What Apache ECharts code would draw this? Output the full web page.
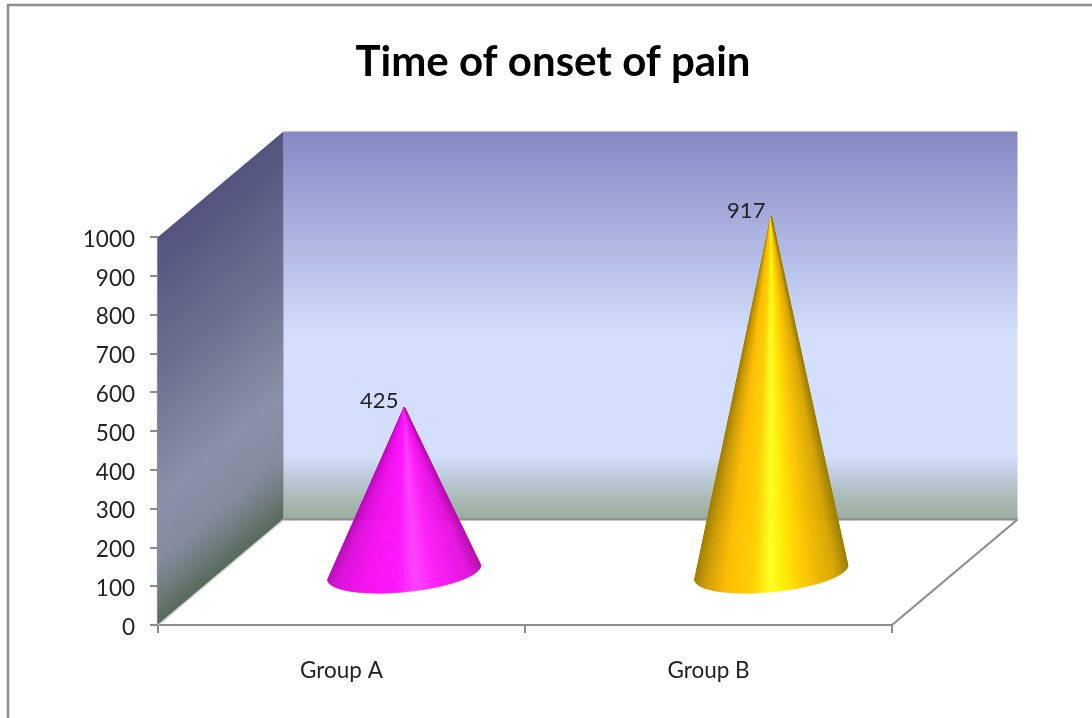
<!DOCTYPE html>
<html>
<head>
<meta charset="utf-8">
<style>html,body{margin:0;padding:0;background:#fff}#chart{width:1092px;height:718px}</style>
<script src="https://cdn.jsdelivr.net/npm/echarts@6/dist/echarts.min.js"></script>
</head>
<body>
<div id="chart"></div>
<script>
// Time of onset of pain, one cone per group
const categories = ['Group A', 'Group B'];
const onsetValues = [425, 917];
const axisTicks = [0, 100, 200, 300, 400, 500, 600, 700, 800, 900, 1000];

// Oblique projection of the chart box, in pixels
const DEPTH_X = 125.5;
const DEPTH_Y = 105.5;
const GREY = '#8c8c8c';
const FONT = 'Lato, "Open Sans", sans-serif';

// Shading across a cone, left silhouette to right silhouette
const magentaShade = [[0, '#bc0abc'], [0.07, '#dc0cd8'], [0.22, '#f40ff0'], [0.45, '#ff14ff'], [0.58, '#ff40ff'], [0.72, '#ff1cf8'], [0.92, '#e610e0'], [1, '#bc0ab4']];
const goldShade = [[0, '#a08000'], [0.07, '#cc9a00'], [0.2, '#ffbc00'], [0.38, '#ffd000'], [0.5, '#ffff20'], [0.6, '#ffe800'], [0.72, '#ffc800'], [0.92, '#d8a400'], [1, '#a08000']];
const shades = [magentaShade, goldShade];

function hexToRgb(h) {
  return [1, 3, 5].map(function (i) { return parseInt(h.substr(i, 2), 16); });
}
function shadeAt(stops, u) {
  for (let i = 1; i < stops.length; i++) {
    if (u <= stops[i][0]) {
      const f = (u - stops[i - 1][0]) / (stops[i][0] - stops[i - 1][0]);
      const a = hexToRgb(stops[i - 1][1]);
      const b = hexToRgb(stops[i][1]);
      return 'rgb(' + a.map(function (v, k) { return Math.round(v + (b[k] - v) * f); }).join(',') + ')';
    }
  }
  return stops[stops.length - 1][1];
}

function renderWalls(params, api) {
  const g = params.coordSys;
  const x0 = g.x, y0 = g.y, x1 = g.x + g.width, y1 = g.y + g.height;
  const backTop = y0 - DEPTH_Y, backBottom = y1 - DEPTH_Y;
  const backLeft = x0 + DEPTH_X, backRight = x1 + DEPTH_X;
  const line = function (a, b, c, d) {
    return { type: 'line', shape: { x1: a, y1: b, x2: c, y2: d }, style: { stroke: GREY, lineWidth: 2.2, fill: null } };
  };
  // Side wall shading runs perpendicular to its slanted top edge
  const sideFill = new echarts.graphic.LinearGradient(x0, y0, x0 + 191, y0 + 226, [
    { offset: 0, color: '#53537f' },
    { offset: 0.35, color: '#6c7090' },
    { offset: 0.68, color: '#8a90a6' },
    { offset: 0.84, color: '#848b9e' },
    { offset: 0.92, color: '#6f7c7e' },
    { offset: 1, color: '#566a59' }
  ], true);
  const backFill = new echarts.graphic.LinearGradient(0, 0, 0, 1, [
    { offset: 0, color: '#8588c3' },
    { offset: 0.53, color: '#d3dffd' },
    { offset: 0.835, color: '#d3dffd' },
    { offset: 0.89, color: '#bdcbdb' },
    { offset: 0.94, color: '#abbcb8' },
    { offset: 1, color: '#9aad9c' }
  ]);
  return {
    type: 'group',
    children: [
      { type: 'rect', shape: { x: backLeft, y: backTop, width: backRight - backLeft, height: backBottom - backTop }, style: { fill: backFill } },
      { type: 'polygon', shape: { points: [[x0, y0], [backLeft, backTop], [backLeft, backBottom], [x0, y1]] }, style: { fill: sideFill } },
      line(backLeft, backBottom, backRight, backBottom),
      line(x1, y1, backRight, backBottom),
      { type: 'line', shape: { x1: x0, y1: y1, x2: backLeft, y2: backBottom }, style: { stroke: '#c4c8c4', lineWidth: 1.5 } }
    ]
  };
}

function renderCone(params, api) {
  const idx = api.value(0);
  const value = api.value(1);
  const base = api.coord([idx, 0]);
  const top = api.coord([idx, value]);
  const band = api.size([1, 0])[0];
  const cx = base[0] + DEPTH_X / 2, cy = base[1] - DEPTH_Y / 2;
  const apex = [cx, top[1] - DEPTH_Y / 2];
  // Base ellipse, sheared to lie on the floor of the box
  const rx = band * 0.2;
  const tilt = -rx * 0.016, sx = -rx * 0.3, sy = rx * 0.285;
  const phase = Math.atan2(sx, rx);
  const reach = Math.sqrt(rx * rx + sx * sx);
  const rim = function (t) {
    return [cx + rx * Math.cos(t) + sx * Math.sin(t), cy + tilt * Math.cos(t) + sy * Math.sin(t)];
  };
  const stops = shades[params.dataIndex];
  const steps = 90;
  const slices = [];
  for (let i = 0; i < steps; i++) {
    const a = rim(phase + Math.PI - Math.PI * i / steps);
    const b = rim(phase + Math.PI - Math.PI * (i + 1) / steps);
    const u = ((a[0] + b[0]) / 2 - (cx - reach)) / (2 * reach);
    const c = shadeAt(stops, Math.min(1, Math.max(0, u)));
    slices.push({
      type: 'polygon',
      shape: { points: [apex, a, b] },
      style: { fill: c, stroke: c, lineWidth: 0.6 }
    });
  }
  slices.push({
    type: 'text',
    style: {
      text: String(value),
      x: apex[0] - 25,
      y: apex[1] - 6,
      align: 'center',
      verticalAlign: 'middle',
      fill: '#222',
      font: '22px ' + FONT
    }
  });
  return { type: 'group', children: slices };
}

const chart = echarts.init(document.getElementById('chart'));
chart.setOption({
  animation: false,
  backgroundColor: '#fff',
  title: {
    text: 'Time of onset of pain',
    left: 548,
    top: 36,
    textAlign: 'center',
    textStyle: { fontFamily: FONT, fontWeight: 'bold', fontSize: 42, color: '#000' }
  },
  graphic: [{
    type: 'rect',
    silent: true,
    shape: { x: 8, y: 5, width: 1200, height: 800 },
    style: { fill: null, stroke: GREY, lineWidth: 2.5 }
  }],
  grid: { left: 158, top: 237, width: 734, height: 388 },
  xAxis: {
    type: 'category',
    data: categories,
    boundaryGap: true,
    axisLine: { lineStyle: { color: GREY, width: 2.2 } },
    axisTick: { show: true, length: 8, alignWithLabel: false, lineStyle: { color: GREY, width: 2 } },
    axisLabel: { fontFamily: FONT, fontSize: 22.5, color: '#222', margin: 34 }
  },
  yAxis: {
    type: 'value',
    min: axisTicks[0],
    max: axisTicks[axisTicks.length - 1],
    interval: axisTicks[1] - axisTicks[0],
    splitLine: { show: false },
    axisLine: { show: true, lineStyle: { color: GREY, width: 2.2 } },
    axisTick: { show: true, length: 8, lineStyle: { color: GREY, width: 2 } },
    axisLabel: {
      color: '#222',
      margin: 23,
      formatter: function (v) { return '{n|' + v + '}'; },
      rich: { n: { fontFamily: FONT, fontSize: 22.5, color: '#222', padding: [5, 0, 0, 0] } }
    }
  },
  series: [
    { type: 'custom', name: 'box', coordinateSystem: 'cartesian2d', renderItem: renderWalls, data: [[0, 0]], z: 1, clip: false, silent: true },
    { type: 'custom', name: 'Onset', coordinateSystem: 'cartesian2d', renderItem: renderCone,
      data: onsetValues.map(function (v, i) { return [i, v]; }), encode: { x: 0, y: 1 }, z: 5, clip: false, silent: true }
  ]
});
</script>
</body>
</html>
